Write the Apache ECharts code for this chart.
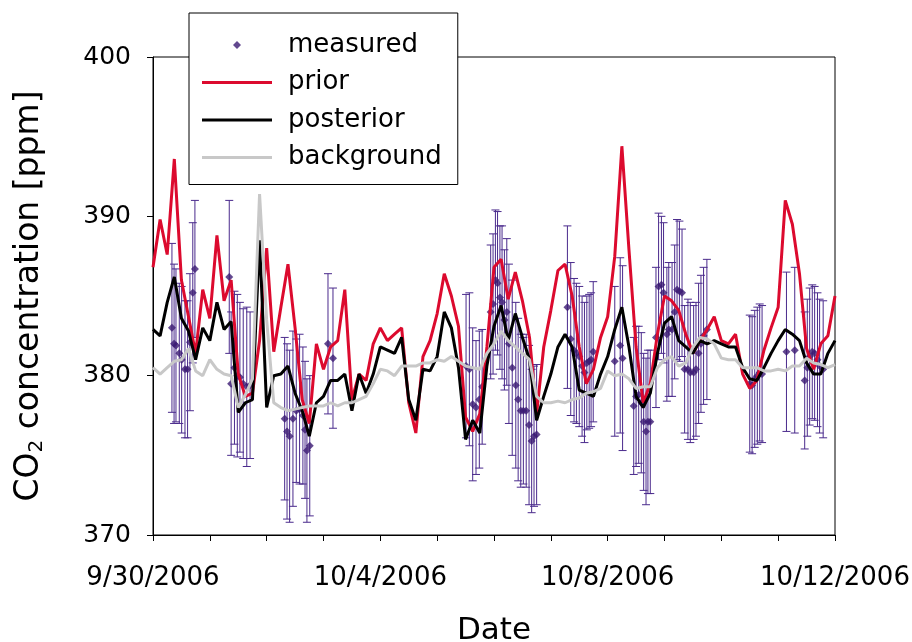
<!DOCTYPE html>
<html>
<head>
<meta charset="utf-8">
<script src="https://cdn.jsdelivr.net/npm/echarts@6/dist/echarts.min.js"></script>
<style>
  html, body { margin: 0; background: #fff; }
  #chart { width: 912px; height: 642px; }
</style>
</head>
<body>
<div id="chart"></div>
<script>
// modelled series, one value every 3 hours from 9/30/2006 00:00
const stepHours = 3
const tickHours = [0, 96, 192, 288]
const tickLabels = ['9/30/2006', '10/4/2006', '10/8/2006', '10/12/2006']

const prior = [
  386.8, 389.8, 387.6, 393.6, 386.0, 383.7, 381.4, 385.4, 383.6, 388.8, 384.7, 386.0, 380.1, 378.7, 378.9, 382.2, 388.0,
  381.5, 384.3, 387.0, 383.0, 378.5, 377.0, 382.0, 380.4, 381.8, 382.2, 385.4, 378.5, 380.1, 379.7, 382.0,
  383.0, 382.2, 382.6, 383.0, 378.3, 376.4, 381.2, 382.2, 383.9, 386.4, 385.0, 383.1, 377.4, 376.5, 377.6, 381.8,
  386.8, 387.3, 384.8, 386.5, 384.7, 382.4, 377.6, 381.8, 384.1, 386.6, 387.0, 385.0, 381.8, 379.5, 380.4, 382.4,
  383.7, 387.5, 394.4, 387.9, 381.8, 378.3, 379.5, 382.6, 385.0, 384.7, 384.1, 382.6, 381.4, 382.2, 382.9, 383.7,
  382.2, 382.0, 382.6, 380.1, 379.2, 379.7, 381.6, 383.0, 384.3, 391.0, 389.5, 386.4, 381.7, 380.4, 382.0, 382.5, 385.0
]
const posterior = [
  382.9, 382.5, 384.6, 386.2, 383.6, 382.8, 381.0, 383.0, 382.2, 384.6, 382.9, 383.4, 377.7, 378.3, 378.5, 388.5, 378.0,
  380.0, 380.1, 380.6, 378.9, 377.8, 376.2, 378.3, 378.7, 379.7, 379.7, 380.1, 377.8, 380.1, 378.9, 380.1,
  381.8, 381.6, 381.4, 382.4, 378.5, 377.2, 380.4, 380.3, 381.2, 384.0, 383.0, 380.5, 376.0, 377.2, 376.4, 380.6,
  383.1, 384.4, 382.2, 383.9, 382.4, 381.0, 377.2, 378.7, 380.1, 381.8, 382.6, 381.8, 379.1, 378.9, 378.7, 380.1,
  381.2, 382.9, 384.3, 381.8, 378.7, 378.0, 378.9, 381.4, 383.3, 383.7, 382.2, 381.8, 381.4, 382.2, 382.0, 382.2,
  382.0, 381.8, 381.8, 380.5, 379.8, 379.7, 380.5, 381.4, 382.2, 382.9, 382.6, 382.2, 380.8, 380.1, 380.1, 381.4, 382.2
]
const background = [
  380.5, 380.1, 380.5, 380.9, 381.0, 381.7, 380.3, 380.0, 381.0, 380.4, 380.1, 380.0, 378.0, 378.8, 379.8, 391.4, 383.5,
  378.3, 378.0, 377.8, 377.9, 378.0, 378.1, 378.1, 378.1, 378.3, 378.1, 378.3, 378.3, 378.5, 378.7, 379.5,
  380.4, 380.3, 380.0, 380.6, 380.6, 380.6, 380.8, 380.8, 381.0, 380.9, 381.2, 380.9, 380.6, 380.5, 380.4, 381.4,
  382.0, 382.8, 382.2, 381.8, 381.4, 381.0, 378.7, 378.3, 378.3, 378.4, 378.3, 378.5, 378.6, 378.9, 379.0, 379.2,
  380.3, 380.0, 380.1, 379.8, 379.2, 379.3, 379.3, 380.5, 381.0, 381.2, 380.6, 380.8, 381.8, 382.4, 382.3, 382.0,
  381.1, 381.0, 381.0, 380.5, 380.5, 380.5, 380.3, 380.3, 380.4, 380.3, 380.6, 380.6, 381.1, 380.8, 380.7, 380.5, 380.7
]

// measurements: hours since 9/30/2006 00:00, value, +/- error
const measuredHour = [
  8.0, 8.9, 9.7, 11.1, 12.1, 13.5, 14.6, 15.6, 16.8, 17.7,
  32.2, 33.0, 34.4, 35.6, 36.7, 38.1, 39.6, 41.0,
  55.6, 56.6, 57.7, 59.1, 60.5, 61.9, 63.3, 64.2, 65.0, 66.2, 73.9, 76.0,
  132.2, 133.6, 135.0, 136.4, 137.8, 139.0,
  142.6, 143.6, 144.6, 145.5, 146.5, 147.4, 148.4, 149.4, 150.3, 151.7, 153.2, 154.2, 155.3, 156.4, 157.6, 158.8, 159.9, 160.9, 162.0,
  175.0, 176.4, 177.8, 178.8, 180.0, 181.2, 182.2, 183.2, 184.2, 185.0, 185.9,
  195.0, 197.3, 198.3, 203.0, 204.0, 205.1, 206.2, 207.2, 208.2, 209.0, 210.0,
  212.4, 213.5, 214.7, 215.6, 217.0, 217.8, 219.2, 220.3, 221.3, 222.3, 223.4,
  224.5, 225.9, 226.9, 228.3, 229.3, 230.4, 231.4, 232.5, 233.9,
  252.0, 253.0, 254.1, 255.2, 256.2, 257.2, 267.5, 271.0,
  275.2, 276.3, 277.3, 278.4, 279.4, 280.6, 281.5, 283.0
]
const measuredValue = [
  383.0, 382.0, 381.9, 381.4, 381.0, 380.4, 380.4, 382.1, 385.2, 386.7,
  386.2, 379.5, 380.5, 380.0, 379.9, 379.5, 379.3, 379.4,
  377.3, 376.5, 376.2, 377.3, 377.8, 377.9, 377.5, 376.6, 375.3, 375.6, 382.0, 381.1,
  380.6, 380.4, 378.2, 378.0, 378.5, 379.3,
  384.0, 384.5, 386.0, 385.8, 384.9, 384.6, 383.5, 384.0, 382.0, 380.5, 379.4, 378.5, 377.8, 377.8, 377.8, 376.9, 375.9, 376.2, 376.3,
  384.3, 382.3, 381.6, 381.4, 381.2, 380.6, 380.2, 380.8, 380.9, 381.0, 381.5,
  380.9, 381.9, 381.1, 378.1, 378.7, 378.8, 378.3, 377.1, 376.5, 377.1, 377.1,
  382.4, 385.6, 385.7, 385.2, 382.6, 382.9, 382.9, 384.0, 385.4, 385.3, 385.2,
  380.4, 380.4, 380.2, 380.2, 380.4, 381.4, 382.0, 382.5, 382.9,
  379.5, 379.4, 379.8, 380.0, 380.2, 380.1, 381.5, 381.6,
  379.7, 380.5, 381.2, 381.5, 381.4, 381.0, 380.6, 380.4
]
const measuredErr = [
  5.3, 5.0, 4.8, 4.4, 4.6, 4.3, 4.3, 4.3, 4.4, 4.3,
  4.8, 4.5, 4.8, 5.1, 4.7, 4.7, 5.0, 4.6,
  5.1, 5.5, 5.4, 5.5, 4.5, 4.7, 4.3, 4.3, 4.5, 4.4, 4.4, 4.4,
  4.5, 4.8, 4.8, 4.2, 4.3, 3.6,
  4.2, 4.4, 4.4, 4.5, 4.5, 4.8, 4.4, 4.6, 5.0, 5.5, 5.2, 5.1, 4.8, 4.6, 4.8, 5.0, 4.5, 4.4, 4.4,
  5.1, 4.8, 4.5, 4.4, 4.4, 4.4, 4.4, 4.2, 4.2, 4.2, 4.4,
  4.7, 5.5, 5.8, 4.3, 4.4, 4.3, 4.4, 4.3, 4.6, 4.5, 4.5,
  4.4, 4.6, 4.3, 4.4, 4.2, 4.2, 4.2, 4.2, 4.4, 4.4, 4.0,
  4.0, 4.4, 4.4, 4.2, 4.2, 4.4, 4.3, 4.3, 4.4,
  4.3, 4.3, 4.3, 4.3, 4.3, 4.3, 5.0, 5.2,
  4.3, 4.3, 4.3, 4.2, 4.2, 4.2, 4.2, 4.3
]

const font = "'DejaVu Sans', 'Liberation Sans', sans-serif"
const barColor = '#4a2a8c'
const toPairs = arr => arr.map((v, i) => [i * stepHours, v])

const chart = echarts.init(document.getElementById('chart'))
chart.setOption({
  animation: false,
  backgroundColor: '#fff',
  textStyle: { fontFamily: font, color: '#000' },
  grid: {
    left: 153, top: 57, width: 682, height: 478,
    outerBoundsMode: 'none',
    show: true, borderColor: '#000', borderWidth: 1
  },
  legend: {
    orient: 'vertical',
    left: 189, top: 13,
    padding: [19, 16, 14, 13],
    itemWidth: 70, itemHeight: 8, itemGap: 11.5,
    backgroundColor: '#fff', borderColor: '#000', borderWidth: 1,
    textStyle: { fontSize: 26, color: '#000', fontFamily: font, padding: [0, 0, 0, 11] },
    data: [
      { name: 'measured', icon: 'path://M0,4 L4,0 L8,4 L4,8 Z' },
      { name: 'prior', icon: 'path://M0,0 L70,0 L70,3 L0,3 Z' },
      { name: 'posterior', icon: 'path://M0,0 L70,0 L70,3 L0,3 Z' },
      { name: 'background', icon: 'path://M0,0 L70,0 L70,3 L0,3 Z' }
    ],
    z: 10
  },
  xAxis: {
    type: 'value', min: 0, max: 288, interval: 24,
    axisLine: { lineStyle: { color: '#000', width: 1 } },
    axisTick: { length: 6, lineStyle: { color: '#000' } },
    axisLabel: {
      fontSize: 26, color: '#000', margin: 30, fontFamily: font,
      formatter: v => {
        const k = tickHours.indexOf(v)
        return k >= 0 ? tickLabels[k] : ''
      }
    },
    splitLine: { show: false },
    name: 'Date', nameLocation: 'middle', nameGap: 80,
    nameTextStyle: { fontSize: 31, color: '#000', fontFamily: font }
  },
  yAxis: {
    type: 'value', min: 370, max: 400, interval: 10,
    axisLine: { show: true, lineStyle: { color: '#000', width: 1 } },
    axisTick: { show: true, length: 6, lineStyle: { color: '#000' } },
    axisLabel: { fontSize: 25, color: '#000', margin: 22, fontFamily: font },
    splitLine: { show: false },
    name: '{a|CO}{sub|2}{a| concentration [ppm]}',
    nameLocation: 'middle', nameGap: 106,
    nameTextStyle: {
      rich: {
        a: { fontSize: 33, color: '#000', fontFamily: font },
        sub: { fontSize: 20, color: '#000', fontFamily: font, padding: [16, 0, 0, 0] }
      }
    }
  },
  series: [
    {
      // error bars
      type: 'custom',
      name: 'errors',
      silent: true,
      z: 1,
      data: measuredHour.map((h, i) => [h, measuredValue[i] - measuredErr[i], measuredValue[i] + measuredErr[i]]),
      encode: { x: 0, y: [1, 2] },
      renderItem(params, api) {
        const lo = api.coord([api.value(0), api.value(1)])
        const hi = api.coord([api.value(0), api.value(2)])
        const w = 4
        const st = { stroke: barColor, lineWidth: 1 }
        return {
          type: 'group',
          children: [
            { type: 'line', shape: { x1: lo[0], y1: lo[1], x2: hi[0], y2: hi[1] }, style: st },
            { type: 'line', shape: { x1: lo[0] - w, y1: lo[1], x2: lo[0] + w, y2: lo[1] }, style: st },
            { type: 'line', shape: { x1: hi[0] - w, y1: hi[1], x2: hi[0] + w, y2: hi[1] }, style: st }
          ]
        }
      }
    },
    {
      type: 'scatter', name: 'measured', z: 2,
      symbol: 'diamond', symbolSize: 8,
      itemStyle: { color: '#3b1a73' },
      data: measuredHour.map((h, i) => [h, measuredValue[i]])
    },
    {
      type: 'line', name: 'prior', z: 3, symbol: 'none',
      color: '#dc0a2e',
      lineStyle: { color: '#dc0a2e', width: 3 },
      data: toPairs(prior)
    },
    {
      type: 'line', name: 'posterior', z: 4, symbol: 'none',
      color: '#000',
      lineStyle: { color: '#000', width: 3 },
      data: toPairs(posterior)
    },
    {
      type: 'line', name: 'background', z: 5, symbol: 'none',
      color: '#c8c8c8',
      lineStyle: { color: '#c8c8c8', width: 3 },
      data: toPairs(background)
    }
  ]
})
</script>
</body>
</html>
